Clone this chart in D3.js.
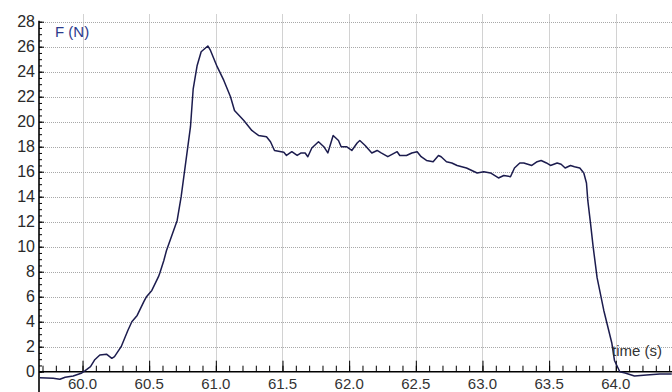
<!DOCTYPE html>
<html lang="en">
<head>
    <meta charset="UTF-8">
    <title>F (N) vs time (s)</title>
    <script src="https://cdn.jsdelivr.net/npm/d3@7"></script>
</head>
<style>
    body { margin: 0; background: #fff; }
    svg { display: block; font-family: Arial, "Liberation Sans", sans-serif; }
</style>
<body>
</body>
</html>
<script>

    // time (s) and force (N)
    var time = [59.68, 59.78, 59.83, 59.87, 59.93, 59.99, 60.02, 60.06, 60.09, 60.13,
        60.18, 60.22, 60.24, 60.29, 60.34, 60.37, 60.41, 60.46, 60.48, 60.52,
        60.57, 60.58, 60.61, 60.63, 60.66, 60.71, 60.74, 60.78, 60.81, 60.83,
        60.86, 60.89, 60.94, 60.96, 61.01, 61.06, 61.11, 61.14, 61.21, 61.27,
        61.32, 61.38, 61.41, 61.44, 61.51, 61.53, 61.57, 61.61, 61.64, 61.67,
        61.69, 61.72, 61.77, 61.81, 61.84, 61.88, 61.92, 61.94, 61.98, 62.02,
        62.06, 62.08, 62.12, 62.17, 62.21, 62.24, 62.29, 62.36, 62.38, 62.43,
        62.47, 62.51, 62.54, 62.58, 62.63, 62.67, 62.69, 62.73, 62.77, 62.81,
        62.88, 62.92, 62.96, 63.01, 63.06, 63.09, 63.12, 63.16, 63.21, 63.24,
        63.28, 63.31, 63.37, 63.41, 63.44, 63.48, 63.51, 63.56, 63.59, 63.62,
        63.66, 63.69, 63.73, 63.76, 63.78, 63.79, 63.81, 63.83, 63.86, 63.91,
        63.94, 63.97, 63.99, 64.03, 64.07, 64.14, 64.23, 64.33, 64.42];
    var force = [-0.48, -0.53, -0.6, -0.45, -0.35, -0.13, 0.08, 0.4, 0.93, 1.33,
        1.4, 1.07, 1.2, 2.0, 3.3, 4.0, 4.5, 5.6, 6.0, 6.5,
        7.6, 7.9, 8.9, 9.7, 10.6, 12.1, 14.0, 17.2, 19.6, 22.6,
        24.5, 25.6, 26.06, 25.7, 24.4, 23.3, 22.0, 20.9, 20.1, 19.3,
        18.9, 18.8, 18.4, 17.7, 17.55, 17.3, 17.6, 17.3, 17.5, 17.5,
        17.2, 17.9, 18.4, 18.0, 17.5, 18.9, 18.5, 18.0, 18.0, 17.7,
        18.3, 18.5, 18.1, 17.5, 17.7, 17.5, 17.2, 17.6, 17.3, 17.3,
        17.5, 17.6, 17.2, 16.9, 16.8, 17.3, 17.2, 16.8, 16.7, 16.5,
        16.3, 16.1, 15.9, 16.0, 15.9, 15.7, 15.5, 15.7, 15.6, 16.3,
        16.7, 16.7, 16.5, 16.8, 16.9, 16.7, 16.5, 16.7, 16.6, 16.3,
        16.5, 16.4, 16.3, 15.9, 15.1, 13.7, 11.9, 10.0, 7.5, 4.9,
        3.6, 2.3, 0.9, 0.0, -0.1, -0.35, -0.26, -0.18, -0.18];

    var xTickLabels = ["60.0", "60.5", "61.0", "61.5", "62.0", "62.5", "63.0", "63.5", "64.0"];
    var yTickLabels = ["0", "2", "4", "6", "8", "10", "12", "14", "16", "18", "20", "22", "24", "26", "28"];

    var w = 672;
    var h = 392;
    var left = 39, plotTop = 21.7, axisY = 371.7;

    var x = d3.scaleLinear().domain([60, 64]).range([82.5, 615.8]);
    var y = d3.scaleLinear().domain([0, 28]).range([axisY, plotTop]);

    var svg = d3.select("body")
            .append("svg")
            .attr("width", w)
            .attr("height", h);

    // vertical grid, solid, every 0.5 s
    svg.selectAll("line.vgrid")
            .data(xTickLabels)
            .enter()
            .append("line")
            .attr("x1", function (d) { return Math.round(x(+d)) + 0.5; })
            .attr("x2", function (d) { return Math.round(x(+d)) + 0.5; })
            .attr("y1", 14)
            .attr("y2", axisY)
            .attr("stroke", "#d2d2d2")
            .attr("stroke-width", 1);

    // horizontal grid, dotted, every 2 N
    svg.selectAll("line.hgrid")
            .data(yTickLabels.slice(1))
            .enter()
            .append("line")
            .attr("x1", left)
            .attr("x2", w)
            .attr("y1", function (d) { return Math.round(y(+d)) + 0.5; })
            .attr("y2", function (d) { return Math.round(y(+d)) + 0.5; })
            .attr("stroke", "#a8a8a8")
            .attr("stroke-dasharray", "1,1")
            .attr("stroke-width", 1);

    // x axis: ticks pointing up, minor every 0.1 s
    var xMinor = d3.range(59.7, 64.45, 0.1);
    svg.append("g")
            .attr("transform", "translate(0," + axisY + ")")
            .call(d3.axisTop(x).tickValues(xMinor).tickSize(6).tickFormat(""))
            .call(function (g) { g.select(".domain").remove(); });
    svg.append("g")
            .attr("transform", "translate(0," + axisY + ")")
            .call(d3.axisTop(x).tickValues(xTickLabels.map(Number)).tickSize(11).tickFormat(""))
            .call(function (g) { g.select(".domain").remove(); });
    svg.append("line")
            .attr("x1", left).attr("x2", w)
            .attr("y1", axisY).attr("y2", axisY)
            .attr("stroke", "#000").attr("stroke-width", 1.6);

    svg.selectAll("text.xlab")
            .data(xTickLabels)
            .enter()
            .append("text")
            .text(function (d) { return d; })
            .attr("x", function (d) { return x(+d); })
            .attr("y", 389)
            .attr("text-anchor", "middle")
            .attr("font-size", "15px")
            .attr("fill", "#333");

    // y axis: ticks pointing right, minor every 0.5 N
    var yMinor = d3.range(0, 28.01, 0.5);
    svg.append("g")
            .attr("transform", "translate(" + left + ",0)")
            .call(d3.axisRight(y).tickValues(yMinor).tickSize(3).tickFormat(""))
            .call(function (g) { g.select(".domain").remove(); });
    svg.append("g")
            .attr("transform", "translate(" + left + ",0)")
            .call(d3.axisRight(y).tickValues(yTickLabels.map(Number)).tickSize(5).tickFormat(""))
            .call(function (g) { g.select(".domain").remove(); });
    svg.append("line")
            .attr("x1", left).attr("x2", left)
            .attr("y1", plotTop - 1).attr("y2", h)
            .attr("stroke", "#000").attr("stroke-width", 1.6);

    svg.selectAll("text.ylab")
            .data(yTickLabels)
            .enter()
            .append("text")
            .text(function (d) { return d; })
            .attr("x", 35)
            .attr("y", function (d) { return y(+d) + 5.5; })
            .attr("text-anchor", "end")
            .attr("font-size", "16px")
            .attr("fill", "#2a2a2a");

    // the force curve
    var line = d3.line()
            .x(function (d, i) { return x(time[i]); })
            .y(function (d) { return y(d); });

    svg.append("path")
            .datum(force)
            .attr("d", line)
            .attr("fill", "none")
            .attr("stroke", "#1c1c4e")
            .attr("stroke-width", 1.5)
            .attr("stroke-linejoin", "round");

    svg.append("text")
            .text("F (N)")
            .attr("x", 55)
            .attr("y", 37)
            .attr("font-size", "15px")
            .attr("fill", "#2b3a8c");

    svg.append("text")
            .text("time (s)")
            .attr("x", 612)
            .attr("y", 356)
            .attr("font-size", "15px")
            .attr("fill", "#333");
</script>
